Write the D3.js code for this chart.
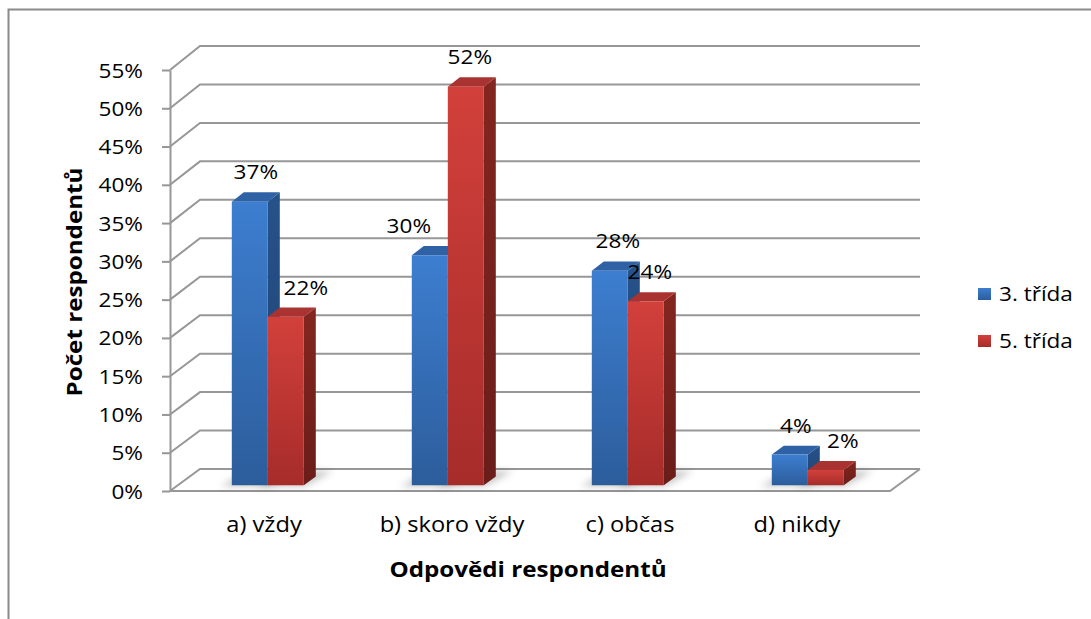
<!DOCTYPE html>
<html><head><meta charset="utf-8">
<script src="https://cdn.jsdelivr.net/npm/d3@7"></script>
<style>body{margin:0;background:#fff}svg{display:block}</style>
</head><body>
<svg id="chart" width="1091" height="619"></svg>
<script>
// ---- data ----
const categories = ["a) vždy", "b) skoro vždy", "c) občas", "d) nikdy"];
const seriesNames = ["3. třída", "5. třída"];
const grade3 = [37, 30, 28, 4];
const grade5 = [22, 52, 24, 2];
const tickValues = [0, 5, 10, 15, 20, 25, 30, 35, 40, 45, 50, 55];
const yTitle = "Počet respondentů";
const xTitle = "Odpovědi respondentů";

// ---- layout ----
const svg = d3.select("#chart");
const FONT = "'Open Sans', sans-serif";
const SX = 1.1;                 // horizontal stretch applied to all text
const DEPTH_X = 30;             // horizontal shift from front to back wall
const Z0 = 0.26, Z1 = 0.66;     // bar front / back depth fraction
const GAP = 1.5;                // gap width relative to a cluster

const yFront = d3.scaleLinear().domain([0, 55]).range([491, 70]);
const yBack = d3.scaleLinear().domain([0, 55]).range([469, 46]);
const xCat = d3.scaleBand().domain(categories).range([170, 890]);
const cluster = xCat.bandwidth() / (1 + GAP);
const xSer = d3.scaleBand().domain(seriesNames).range([0, cluster]);

function proj(x, v, z) {
  return [x + DEPTH_X * z, yFront(v) + (yBack(v) - yFront(v)) * z];
}
function poly(pts) { return pts.map(p => p.join(",")).join(" "); }

function text(g, x, y, str, opts = {}) {
  return g.append("text")
    .attr("transform", `translate(${x},${y})${opts.rotate ? " rotate(" + opts.rotate + ")" : ""} scale(${SX},1)`)
    .attr("text-anchor", opts.anchor || "middle")
    .attr("font-family", FONT)
    .attr("font-size", opts.size || 20.5)
    .attr("font-weight", opts.bold ? 700 : 400)
    .attr("fill", "#000")
    .text(str);
}

// ---- defs: gradients and shadow blur ----
const defs = svg.append("defs");
const palette = {
  "3. třída": { front: ["#3d7ed0", "#2c5d9b"], side: ["#26528b", "#1f426f"], top: "#2f62a4" },
  "5. třída": { front: ["#d2403b", "#a62c2a"], side: ["#83261f", "#6a1d1a"], top: "#a93330" }
};
seriesNames.forEach((s, i) => {
  ["front", "side"].forEach(face => {
    const gr = defs.append("linearGradient").attr("id", `g${i}${face}`)
      .attr("x1", 0).attr("y1", 0).attr("x2", 0).attr("y2", 1);
    gr.append("stop").attr("offset", 0).attr("stop-color", palette[s][face][0]);
    gr.append("stop").attr("offset", 1).attr("stop-color", palette[s][face][1]);
  });
});
defs.append("filter").attr("id", "soft").attr("x", "-50%").attr("y", "-50%").attr("width", "200%").attr("height", "200%")
  .append("feGaussianBlur").attr("stdDeviation", 3.5);

// ---- chart border ----
svg.append("rect").attr("x", 8.5).attr("y", 9.5).attr("width", 1200).attr("height", 800)
  .attr("fill", "none").attr("stroke", "#8a8a8a").attr("stroke-width", 2);

// ---- back wall gridlines and side diagonals ----
const gridStroke = "#979797";
const grid = svg.append("g").attr("stroke", gridStroke).attr("stroke-width", 2).attr("fill", "none");
tickValues.forEach(v => {
  const a = proj(170, v, 0), b = proj(170, v, 1), c = proj(890, v, 1);
  grid.append("polyline").attr("points", poly([a, b, c]));
});
// floor outline
grid.append("polyline").attr("points", poly([proj(170, 0, 0), proj(890, 0, 0), proj(890, 0, 1)]));

// ---- value axis (front) ----
const axisG = svg.append("g").attr("transform", "translate(170,0)");
axisG.call(d3.axisLeft(yFront).tickValues(tickValues).tickSize(8).tickSizeOuter(0).tickFormat(""));
axisG.select(".domain").attr("stroke", gridStroke).attr("stroke-width", 2);
axisG.selectAll(".tick line").attr("stroke", gridStroke).attr("stroke-width", 2);
tickValues.forEach(v => text(svg, 143, yFront(v) + 7.5, v + "%", { anchor: "end" }));

// ---- bars ----
const seriesValues = [grade3, grade5];
const shadows = svg.append("g").attr("filter", "url(#soft)");
const bars = svg.append("g");
const labelNudge = [[0, -27, 2, 0], [14, -2, -2, 11]];
const labels = svg.append("g");

categories.forEach((cat, ci) => {
  seriesNames.forEach((s, si) => {
    const v = seriesValues[si][ci];
    const x0 = xCat(cat) + (xCat.bandwidth() - cluster) / 2 + xSer(s);
    const x1 = x0 + xSer.bandwidth();
    // floor shadow
    shadows.append("polygon")
      .attr("points", poly([proj(x0 - 10, 0, Z0 - 0.05), proj(x1 + 2, 0, Z0 - 0.05), proj(x1 + 10, 0, Z1 + 0.25), proj(x0 - 4, 0, Z1 + 0.25)]))
      .attr("fill", "#000").attr("opacity", 0.22);
    const g = bars.append("g");
    g.append("polygon").attr("points", poly([proj(x1, 0, Z0), proj(x1, 0, Z1), proj(x1, v, Z1), proj(x1, v, Z0)]))
      .attr("fill", `url(#g${si}side)`);
    g.append("polygon").attr("points", poly([proj(x0, v, Z0), proj(x1, v, Z0), proj(x1, v, Z1), proj(x0, v, Z1)]))
      .attr("fill", palette[s].top);
    g.append("polygon").attr("points", poly([proj(x0, 0, Z0), proj(x1, 0, Z0), proj(x1, v, Z0), proj(x0, v, Z0)]))
      .attr("fill", `url(#g${si}front)`);
    // value label
    const mid = proj((x0 + x1) / 2, v, (Z0 + Z1) / 2);
    const top = proj(x0, v, Z1);
    text(labels, mid[0] + labelNudge[si][ci], top[1] - 13, v + "%");
  });
});

// ---- category labels ----
const catNudge = [-5, 3, 1, -12];
categories.forEach((cat, ci) => {
  const p = proj(xCat(cat) + xCat.bandwidth() / 2, 0, 0.3);
  text(svg, p[0] + catNudge[ci], 532, cat, { size: 21.5 });
});

// ---- axis titles ----
text(svg, 528, 577, xTitle, { bold: true, size: 22 });
text(svg, 82, 282, yTitle, { bold: true, size: 22, rotate: -90 });

// ---- legend ----
seriesNames.forEach((s, i) => {
  const y = 288 + i * 47;
  svg.append("rect").attr("x", 978).attr("y", y).attr("width", 13).attr("height", 12)
    .attr("fill", `url(#g${i}front)`);
  text(svg, 999, y + 12.5, s, { anchor: "start" });
});
</script>
</body></html>
